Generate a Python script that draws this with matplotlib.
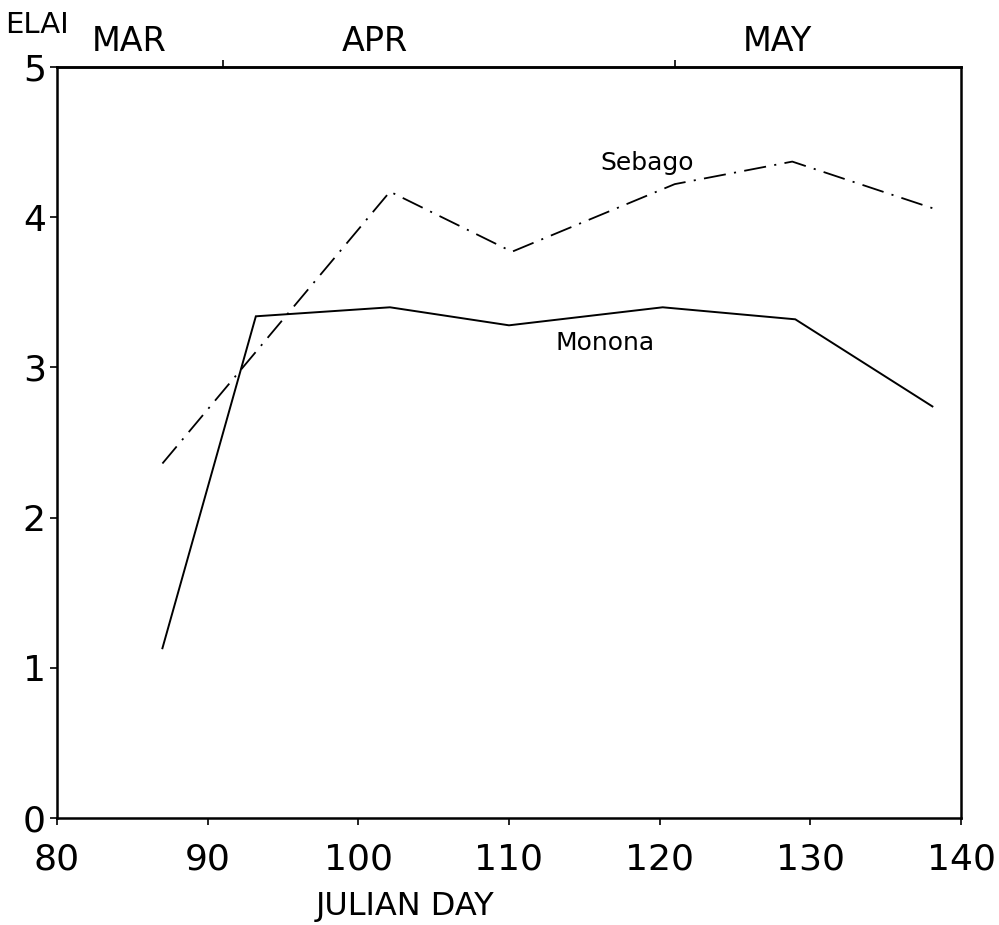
import matplotlib
matplotlib.use("Agg")
import matplotlib.pyplot as plt

# Data
monona_day = [87, 93.2, 102.1, 110.0, 120.2, 129.0, 138.1]
monona_elai = [1.13, 3.34, 3.40, 3.28, 3.40, 3.32, 2.74]
sebago_day = [87, 102.1, 110.2, 121.0, 128.8, 138.1]
sebago_elai = [2.36, 4.17, 3.77, 4.22, 4.37, 4.06]

x_ticks = [80, 90, 100, 110, 120, 130, 140]
y_ticks = [0, 1, 2, 3, 4, 5]
month_ticks = [91, 121]
month_names = ["MAR", "APR", "MAY"]
month_label_pos = [84.8, 101.1, 127.8]

plt.rcParams['font.family'] = ['DejaVu Sans']
plt.rcParams['lines.scale_dashes'] = False

fig = plt.figure(figsize=(9.99, 9.25), dpi=100)
ax = fig.add_axes([0.057, 0.1157, 0.905, 0.8119])

ax.plot(monona_day, monona_elai, color='black', lw=1.4, solid_joinstyle='miter')
ax.plot(sebago_day, sebago_elai, color='black', lw=1.3,
        linestyle=(0, (16, 6, 1.5, 6)))

ax.set_xlim(80, 140)
ax.set_ylim(0, 5)
ax.set_xticks(x_ticks)
ax.set_xticklabels([str(t) for t in x_ticks])
ax.set_yticks(y_ticks)
ax.set_yticklabels([str(t) for t in y_ticks])
ax.tick_params(axis='both', direction='out', length=5, width=1.2,
               labelsize=26)
ax.tick_params(axis='x', pad=13)
ax.tick_params(axis='y', pad=3)
for sp in ax.spines.values():
    sp.set_linewidth(1.8)

# top month ticks
sec = ax.secondary_xaxis('top')
sec.set_xticks(month_ticks)
sec.set_xticklabels(['', ''])
sec.tick_params(direction='out', length=5, width=1.2)
sec.spines['top'].set_linewidth(1.8)

for name, pos in zip(month_names, month_label_pos):
    ax.annotate(name, xy=(pos, 1.0), xycoords=ax.get_xaxis_transform(),
                xytext=(0, 18), textcoords='offset points',
                ha='center', va='center', fontsize=24)

fig.text(5/999, 1-25/925, "ELAI", ha='left', va='center', fontsize=21)

ax.set_xlabel("JULIAN DAY", fontsize=23, labelpad=10, x=0.385)

ax.text(119.2, 4.36, "Sebago", ha='center', va='center', fontsize=18)
ax.text(116.4, 3.16, "Monona", ha='center', va='center', fontsize=18)

fig.savefig("out.png", dpi=100)
